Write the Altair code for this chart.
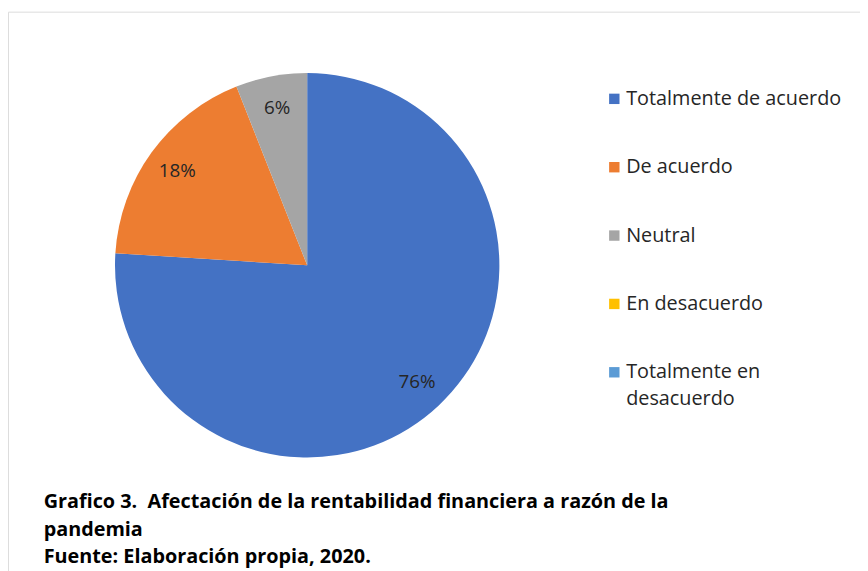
import altair as alt
import pandas as pd

categories = ["Totalmente de acuerdo", "De acuerdo", "Neutral", "En desacuerdo", "Totalmente en desacuerdo"]
values = [76, 18, 6, 0, 0]
labels = ["76%", "18%", "6%", "", ""]
colors = ["#4472C4", "#ED7D31", "#A5A5A5", "#FFC000", "#5B9BD5"]
caption = [
    "Grafico 3.\u00a0 Afectación de la rentabilidad financiera a razón de la",
    "pandemia",
    "Fuente: Elaboración propia, 2020.",
]

df = pd.DataFrame({"cat": categories, "value": values, "label": labels, "order": list(range(len(categories)))})

base = alt.Chart(df).encode(
    theta=alt.Theta("value:Q", stack=True),
    order=alt.Order("order:Q"),
    x=alt.value(302),
    y=alt.value(256),
)

pie = base.mark_arc(outerRadius=194, stroke=None).encode(
    color=alt.Color(
        "cat:N",
        scale=alt.Scale(domain=categories, range=colors),
        legend=alt.Legend(
            title=None,
            orient="none",
            legendX=602,
            legendY=78,
            symbolType="square",
            symbolSize=110,
            symbolStrokeWidth=0,
            labelFont="Open Sans",
            labelFontSize=20,
            labelColor="#262626",
            labelOffset=2,
            rowPadding=49,
            labelLimit=400,
            labelExpr="datum.label == 'Totalmente en desacuerdo' ? ['Totalmente en', 'desacuerdo'] : datum.label",
        ),
    )
)

text = base.mark_text(radius=162, font="Open Sans", fontSize=19, color="#262626").encode(
    text=alt.Text("label:N")
)

chart = (
    alt.layer(pie, text)
    .properties(
        width=860,
        height=575,
        autosize=alt.AutoSizeParams(type="none"),
        padding={"left": 0, "top": 1, "right": 0, "bottom": 0},
        title=alt.TitleParams(
            text=caption,
            orient="bottom",
            anchor="start",
            frame="group",
            offset=-90,
            dx=36,
            font="Open Sans",
            fontSize=20,
            fontWeight="bold",
            color="#000000",
            lineHeight=28,
        ),
    )
    .configure_view(stroke="#8c8c8c", strokeWidth=1)
    .configure(style={"guide-label": {"lineHeight": 27}})
)

chart.save("out.html", embed_options={"renderer": "svg", "actions": False})
